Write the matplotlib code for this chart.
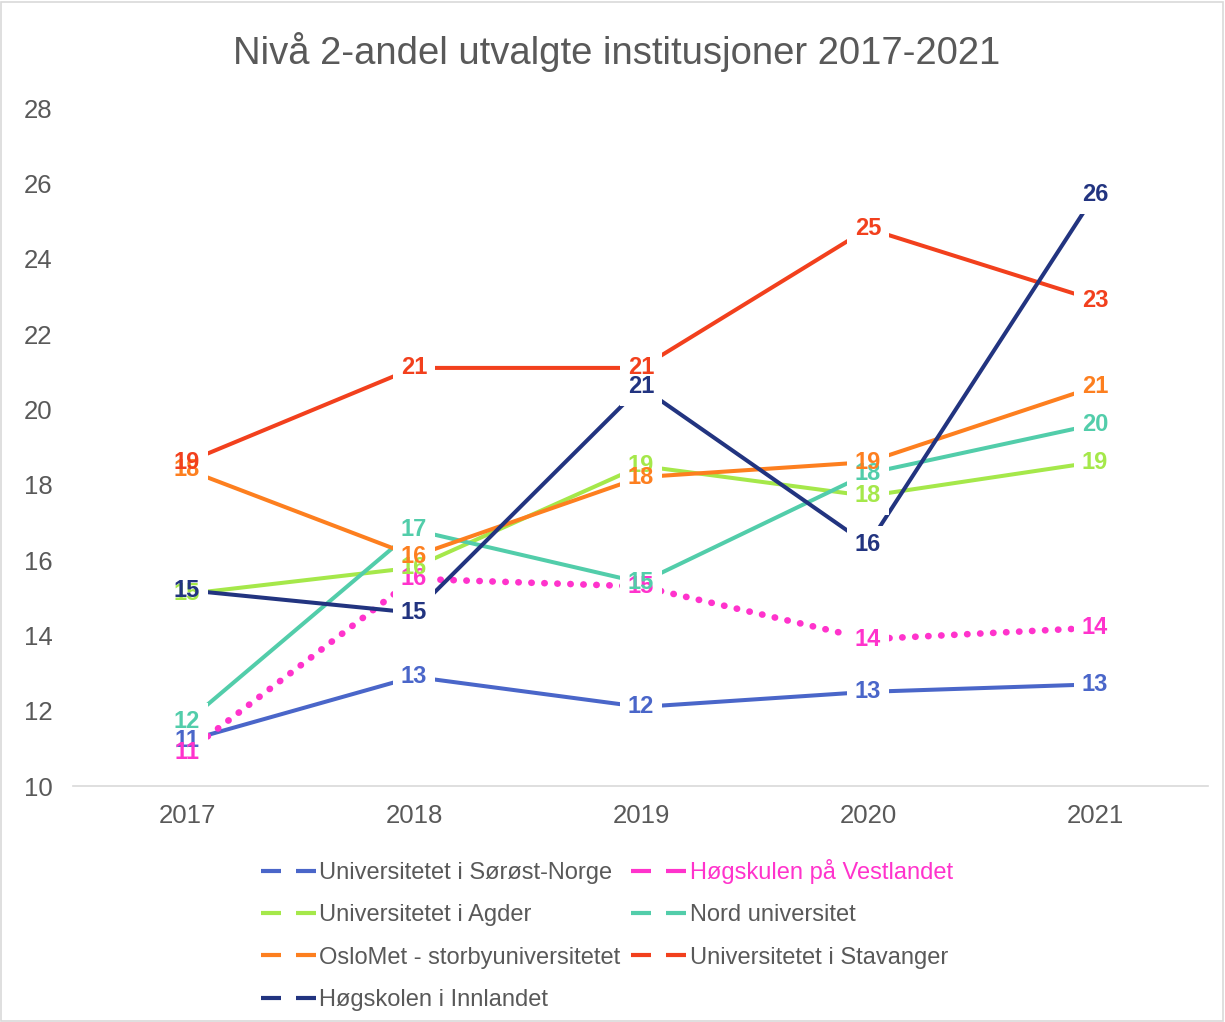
import matplotlib
matplotlib.use("Agg")
import matplotlib.pyplot as plt
from matplotlib.lines import Line2D
from matplotlib.patches import Rectangle

plt.rcParams['font.family'] = ['Liberation Sans', 'DejaVu Sans']

# data
years = ["2017", "2018", "2019", "2020", "2021"]

usn = [11.2, 12.9, 12.1, 12.5, 12.7]
hvl = [10.9, 15.5, 15.3, 13.9, 14.2]
uia = [15.1, 15.8, 18.5, 17.7, 18.6]
nord = [11.7, 16.8, 15.4, 18.3, 19.6]
oslomet = [18.4, 16.1, 18.2, 18.6, 20.6]
uis = [18.6, 21.1, 21.1, 24.8, 22.9]
inn = [15.2, 14.6, 20.6, 16.4, 25.7]

names = ["Universitetet i Sørøst-Norge", "Høgskulen på Vestlandet",
         "Universitetet i Agder", "Nord universitet",
         "OsloMet - storbyuniversitetet", "Universitetet i Stavanger",
         "Høgskolen i Innlandet"]
series = [usn, hvl, uia, nord, oslomet, uis, inn]
colors = ["#4a66c9", "#ff33cc", "#a5e84a", "#52cdaa", "#fd7f1f", "#f2401d", "#223480"]

GRAY = "#595959"

fig = plt.figure(figsize=(12.25, 10.22), dpi=100)
ax = fig.add_axes([0.06, 0.2309, 0.9265, 0.6634])

x = list(range(len(years)))

for name, vals, c in zip(names, series, colors):
    if name == "Høgskulen på Vestlandet":
        ax.plot(x, vals, color=c, lw=4.8, linestyle=(0, (0.05, 1.9)),
                dash_capstyle='round', zorder=2)
    else:
        ax.plot(x, vals, color=c, lw=2.9, zorder=2, solid_capstyle='butt')


def lab(v):
    # round half up like Excel
    return "%d" % int(v + 0.5)


# data labels: white patch under the text so lines look cut, text on top
for vals, c in zip(series, colors):
    for xi, v in zip(x, vals):
        ax.text(xi, v, lab(v), color="none", fontsize=17, fontweight='bold',
                ha='center', va='center', zorder=3,
                bbox=dict(facecolor='white', edgecolor='none', pad=5.5))
for vals, c in zip(series, colors):
    for xi, v in zip(x, vals):
        ax.text(xi, v, lab(v), color=c, fontsize=17, fontweight='bold',
                ha='center', va='center', zorder=4)

ax.set_xlim(-0.5, 4.5)
ax.set_ylim(10, 28)
ax.set_xticks(x)
ax.set_xticklabels(years)
ax.set_yticks(range(10, 29, 2))
ax.tick_params(axis='both', length=0, labelsize=18.5, labelcolor=GRAY)
ax.tick_params(axis='x', pad=13)
ax.tick_params(axis='y', pad=15)
for s in ['top', 'right', 'left']:
    ax.spines[s].set_visible(False)
ax.spines['bottom'].set_color("#d9d9d9")
ax.spines['bottom'].set_linewidth(1.2)

fig.text(0.503, 0.949, "Nivå 2-andel utvalgte institusjoner 2017-2021",
         ha='center', va='center', fontsize=27.5, color=GRAY)

# legend, column-major order
order = [0, 2, 4, 6, 1, 3, 5]
handles = [Line2D([], [], color=colors[i], lw=3, linestyle=(0, (4.8, 3.6)))
           for i in order]
labels = [names[i] for i in order]
leg = fig.legend(handles, labels, ncol=2, loc='upper left',
                 bbox_to_anchor=(0.213, 0.1595), frameon=False, fontsize=17,
                 handlelength=2.33, handletextpad=0.15, columnspacing=0.45,
                 labelspacing=0.86, borderpad=0, borderaxespad=0)
for t in leg.get_texts():
    t.set_color(GRAY)
leg.get_texts()[4].set_color(colors[1])

fig.patches.append(Rectangle((0.001, 0.001), 0.997, 0.997, transform=fig.transFigure,
                             fill=False, edgecolor="#d9d9d9", lw=1.2))

fig.savefig("out.png", dpi=100)
